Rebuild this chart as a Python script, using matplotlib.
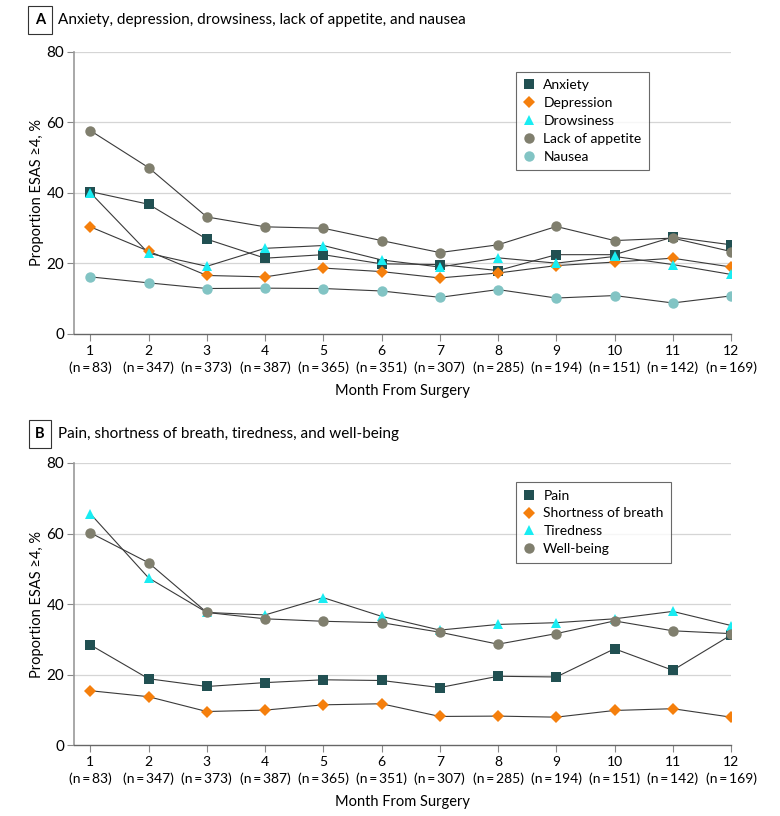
import matplotlib
matplotlib.use("Agg")
import matplotlib.pyplot as plt

plt.rcParams['font.family'] = ['Lato', 'DejaVu Sans']

months = list(range(1, 13))
n_labels = ["83", "347", "373", "387", "365", "351", "307", "285", "194", "151", "142", "169"]

# Panel A
anxiety = [40.4, 36.8, 26.9, 21.5, 22.5, 19.9, 19.7, 18.0, 22.5, 22.5, 27.5, 25.3]
depression = [30.4, 23.5, 16.6, 16.2, 18.7, 17.7, 15.9, 17.3, 19.4, 20.4, 21.5, 19.0]
drowsiness = [40.1, 22.9, 19.2, 24.3, 25.1, 21.0, 19.0, 21.6, 20.1, 22.0, 19.7, 16.9]
lack_appetite = [57.7, 47.2, 33.2, 30.4, 30.0, 26.5, 23.1, 25.3, 30.5, 26.5, 27.2, 23.4]
nausea = [16.2, 14.5, 12.9, 13.0, 12.9, 12.2, 10.4, 12.6, 10.2, 10.9, 8.8, 10.8]

# Panel B
pain = [28.4, 18.8, 16.6, 17.7, 18.5, 18.3, 16.3, 19.5, 19.3, 27.3, 21.2, 31.2]
short_breath = [15.4, 13.7, 9.5, 9.9, 11.4, 11.7, 8.1, 8.2, 7.9, 9.8, 10.3, 7.9]
tiredness = [65.6, 47.4, 37.6, 36.9, 41.8, 36.5, 32.6, 34.2, 34.7, 35.8, 37.9, 33.9]
well_being = [60.2, 51.7, 37.6, 35.8, 35.1, 34.7, 32.0, 28.6, 31.6, 35.2, 32.4, 31.6]

c_square = "#215052"
c_diamond = "#F57F0C"
c_triangle = "#19ECF2"
c_circle = "#807F6E"
c_light = "#82C4C4"
line_c = "#3a3a3a"

xticklabels = ["{m}\n(n\u2009=\u2009{n})".format(m=m, n=n) for m, n in zip(months, n_labels)]

fig = plt.figure(figsize=(7.8, 8.16), dpi=100)


def draw_panel(ax, series, legend_anchor):
    for vals, marker, color, ms, label in series:
        ax.plot(months, vals, color=line_c, lw=0.8, zorder=2)
    for vals, marker, color, ms, label in series:
        ax.plot(months, vals, linestyle="none", marker=marker, color=color,
                markersize=ms, markeredgewidth=0, label=label, zorder=3)
    ax.set_xlim(0.72, 12)
    ax.set_ylim(0, 80)
    ax.set_yticks([0, 20, 40, 60, 80])
    ax.set_xticks(months)
    ax.set_xticklabels(xticklabels, fontsize=10, linespacing=1.4)
    ax.tick_params(axis="y", labelsize=11, length=5, color="#888888", pad=2)
    ax.tick_params(axis="x", length=5, color="#888888", pad=3)
    for y in [20, 40, 60, 80]:
        ax.axhline(y, color="#d5d5d5", lw=0.9, zorder=1)
    for s in ["top", "right"]:
        ax.spines[s].set_visible(False)
    ax.spines["left"].set_color("#999999")
    ax.spines["bottom"].set_color("#666666")
    ax.spines["left"].set_linewidth(1.2)
    ax.spines["bottom"].set_linewidth(1.0)
    ax.set_ylabel("Proportion ESAS \u22654, %", fontsize=10.5, labelpad=2)
    ax.set_xlabel("Month From Surgery", fontsize=10.5, labelpad=7)
    leg = ax.legend(loc="upper left", bbox_to_anchor=legend_anchor, frameon=True,
                    fancybox=False, fontsize=10, handlelength=0.8, handletextpad=0.6,
                    labelspacing=0.42, borderpad=0.55, borderaxespad=0)
    leg.get_frame().set_edgecolor("#444444")
    leg.get_frame().set_linewidth(0.8)


ax1 = fig.add_axes([0.0949, 0.5907, 0.8423, 0.3456])
draw_panel(ax1, [
    (anxiety, "s", c_square, 6.5, "Anxiety"),
    (depression, "D", c_diamond, 6, "Depression"),
    (drowsiness, "^", c_triangle, 7.5, "Drowsiness"),
    (lack_appetite, "o", c_circle, 7.5, "Lack of appetite"),
    (nausea, "o", c_light, 7.5, "Nausea"),
], (0.673, 0.93))

ax2 = fig.add_axes([0.0949, 0.0870, 0.8423, 0.3456])
draw_panel(ax2, [
    (pain, "s", c_square, 6.5, "Pain"),
    (short_breath, "D", c_diamond, 6, "Shortness of breath"),
    (tiredness, "^", c_triangle, 7.5, "Tiredness"),
    (well_being, "o", c_circle, 7.5, "Well-being"),
], (0.673, 0.933))

for letter, title, ypix in [("A", "Anxiety, depression, drowsiness, lack of appetite, and nausea", 20),
                            ("B", "Pain, shortness of breath, tiredness, and well-being", 434)]:
    yf = 1 - ypix / 816.0
    fig.text(40 / 780.0, yf, letter, fontsize=10.5, fontweight="bold", ha="center", va="center",
             bbox=dict(boxstyle="square,pad=0.45", facecolor="white", edgecolor="#333333", lw=0.8))
    fig.text(58 / 780.0, yf, title, fontsize=11, ha="left", va="center")

fig.savefig("out.png", dpi=100)
